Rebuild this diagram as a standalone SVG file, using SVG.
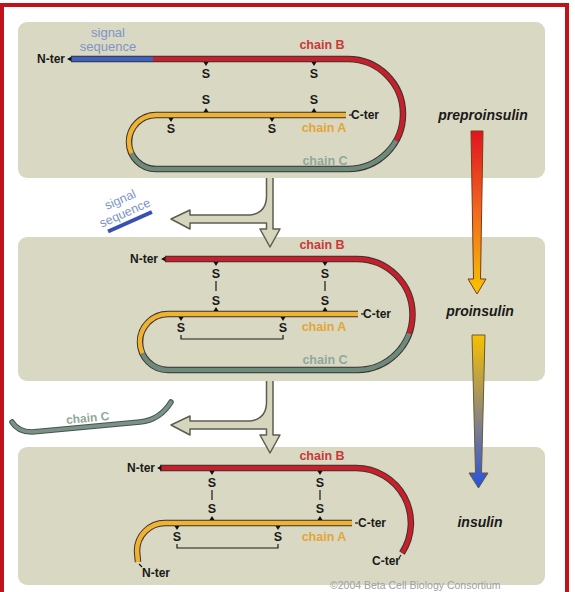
<svg xmlns="http://www.w3.org/2000/svg" width="575" height="592" viewBox="0 0 575 592">
<defs>
<style>
.panel{fill:#d9d8c3}
.ol{fill:none;stroke:#3b3330;stroke-width:6.5}
.ch{fill:none;stroke-width:4.5}
.red{stroke:#c8202b}
.yel{stroke:#f0b233}
.grn{stroke:#6d8b7b}
.blu{stroke:#3d62c4}
.s{font-family:"Liberation Sans",Arial,sans-serif;font-weight:bold;font-size:12.5px;fill:#1a1a1a;text-anchor:middle}
.term{font-family:"Liberation Sans",Arial,sans-serif;font-weight:bold;font-size:12px;fill:#1a1a1a}
.lbl{font-family:"Liberation Sans",Arial,sans-serif;font-weight:bold;font-size:12.5px;text-anchor:middle}
.lB{fill:#c8393a}.lA{fill:#e3a53a}.lC{fill:#8fa89a}
.stage{font-family:"Liberation Sans",Arial,sans-serif;font-weight:bold;font-style:italic;font-size:14px;fill:#1a1a1a;text-anchor:middle}
.sig{font-family:"Liberation Sans",Arial,sans-serif;font-size:13px;fill:#7d95c8;text-anchor:middle}
.bond{stroke:#1a1a1a;stroke-width:1.2;fill:none}
.blk{fill:#d6d5bd;stroke:#5e5e50;stroke-width:1.5;stroke-linejoin:round}
</style>
<path id="td" d="M-2.5,0 H2.5 L0,4 Z" fill="#111"/>
<path id="tu" d="M-2.5,0 H2.5 L0,-4 Z" fill="#111"/>
<path id="tl" d="M0,0 L4.5,-2.5 L4.5,2.5 Z" fill="#111"/>
<linearGradient id="g1" x1="0" y1="0" x2="0" y2="1">
<stop offset="0" stop-color="#e0141f"/>
<stop offset="0.5" stop-color="#f26a1e"/>
<stop offset="1" stop-color="#f7c600"/>
</linearGradient>
<linearGradient id="g2" x1="0" y1="0" x2="0" y2="1">
<stop offset="0" stop-color="#f7c000"/>
<stop offset="0.55" stop-color="#8a8580"/>
<stop offset="1" stop-color="#2452e0"/>
</linearGradient>
</defs>
<rect x="0" y="0" width="575" height="592" fill="#ffffff"/>
<rect id="frame" x="2" y="5" width="565" height="620" fill="none" stroke="#c0121a" stroke-width="4"/>

<g id="panels">
<rect class="panel" x="18" y="22" width="527" height="156" rx="9"/>
<rect class="panel" x="18" y="237" width="527" height="144" rx="9"/>
<rect class="panel" x="18" y="447" width="527" height="138" rx="9"/>
</g>

<g id="preproinsulin-molecule">
<text class="sig" x="108" y="37">signal</text>
<text class="sig" x="108" y="51">sequence</text>
<path class="ol" d="M71,59 H348 A55,55 0 0 1 348,169 H156 A27,27 0 0 1 156,115 H346"/>
<path class="ch blu" d="M71,59 H153"/>
<path class="ch red" d="M153,59 H348 A55,55 0 0 1 396.1,140.7"/>
<path class="ch grn" d="M396.1,140.7 A55,55 0 0 1 348,169 H156 A27,27 0 0 1 131.5,153.4"/>
<path class="ch yel" d="M131.5,153.4 A27,27 0 0 1 156,115 H346"/>
<text class="term" x="37" y="63">N-ter</text>
<use href="#tl" x="67" y="59"/>
<path class="bond" d="M349,115 H352"/>
<text class="term" x="351" y="119">C-ter</text>
<text class="lbl lB" x="322" y="49">chain B</text>
<text class="lbl lA" x="324" y="132">chain A</text>
<text class="lbl lC" x="325" y="165">chain C</text>
<use href="#td" x="206" y="62"/><text class="s" x="206" y="78">S</text>
<use href="#td" x="314" y="62"/><text class="s" x="314" y="78">S</text>
<use href="#tu" x="206" y="112"/><text class="s" x="206" y="104">S</text>
<use href="#tu" x="314" y="112"/><text class="s" x="314" y="104">S</text>
<use href="#td" x="171" y="118"/><text class="s" x="171" y="133">S</text>
<use href="#td" x="272" y="118"/><text class="s" x="272" y="133">S</text>
</g>

<g id="proinsulin-molecule">
<path class="ol" d="M165,259 H357 A55.5,55.5 0 0 1 357,370 H168 A28,28 0 0 1 168,314 H358"/>
<path class="ch red" d="M165,259 H357 A55.5,55.5 0 0 1 409.2,333.5"/>
<path class="ch grn" d="M409.2,333.5 A55.5,55.5 0 0 1 357,370 H168 A28,28 0 0 1 142.4,353.4"/>
<path class="ch yel" d="M142.4,353.4 A28,28 0 0 1 168,314 H358"/>
<text class="term" x="130" y="263">N-ter</text>
<use href="#tl" x="161" y="259"/>
<path class="bond" d="M361,314 H364"/>
<text class="term" x="363" y="318">C-ter</text>
<text class="lbl lB" x="322" y="249">chain B</text>
<text class="lbl lA" x="324" y="331">chain A</text>
<text class="lbl lC" x="325" y="364">chain C</text>
<use href="#td" x="216" y="262"/><text class="s" x="216" y="278">S</text>
<path class="bond" d="M216,281 V291"/>
<text class="s" x="216" y="305">S</text><use href="#tu" x="216" y="311"/>
<use href="#td" x="325" y="262"/><text class="s" x="325" y="278">S</text>
<path class="bond" d="M325,281 V291"/>
<text class="s" x="325" y="305">S</text><use href="#tu" x="325" y="311"/>
<use href="#td" x="181" y="317"/><text class="s" x="181" y="332">S</text>
<use href="#td" x="283" y="317"/><text class="s" x="283" y="332">S</text>
<path class="bond" d="M181,335 V339 H283 V335"/>
</g>

<g id="insulin-molecule">
<path class="ol" d="M160,468 H356 A55,55 0 0 1 402,553"/>
<path class="ol" d="M138,562 L137,551 A28,28 0 0 1 165,523 H352"/>
<path class="ch red" d="M160,468 H356 A55,55 0 0 1 402,553"/>
<path class="ch yel" d="M138,562 L137,551 A28,28 0 0 1 165,523 H352"/>
<text class="term" x="127" y="472">N-ter</text>
<use href="#tl" x="157" y="468"/>
<path class="bond" d="M355,523 H358"/>
<text class="term" x="358" y="527">C-ter</text>
<path class="bond" d="M401,555 L399,558"/>
<text class="term" x="372" y="565">C-ter</text>
<path class="bond" d="M139,564 L142,567"/>
<text class="term" x="142" y="577">N-ter</text>
<text class="lbl lB" x="322" y="460">chain B</text>
<text class="lbl lA" x="324" y="541">chain A</text>
<use href="#td" x="212" y="471"/><text class="s" x="212" y="487">S</text>
<path class="bond" d="M212,490 V500"/>
<text class="s" x="212" y="513">S</text><use href="#tu" x="212" y="520"/>
<use href="#td" x="320" y="471"/><text class="s" x="320" y="487">S</text>
<path class="bond" d="M320,490 V500"/>
<text class="s" x="320" y="513">S</text><use href="#tu" x="320" y="520"/>
<use href="#td" x="177" y="526"/><text class="s" x="177" y="541">S</text>
<use href="#td" x="278" y="526"/><text class="s" x="278" y="541">S</text>
<path class="bond" d="M177,544 V548 H278 V544"/>
</g>

<g id="released-signal-sequence">
<g transform="translate(125,213) rotate(-24)">
<text class="sig" x="1" y="-10" style="font-size:12.5px">signal</text>
<text class="sig" x="0" y="4" style="font-size:12.5px">sequence</text>
<path d="M-23,10 H25" stroke="#3a4fb2" stroke-width="4"/>
</g>
</g>

<g id="released-chain-c">
<path d="M12,422 Q18,432 32,432 L140,422 Q160,420 171,402" fill="none" stroke="#44554c" stroke-width="5.5" stroke-linecap="round"/>
<path d="M12,422 Q18,432 32,432 L140,422 Q160,420 171,402" fill="none" stroke="#7b918a" stroke-width="3.5" stroke-linecap="round"/>
<text class="lbl lC" transform="translate(88,422) rotate(-5)" x="0" y="0" style="font-size:12px">chain C</text>
</g>

<g id="stage-labels">
<text class="stage" x="483" y="120">preproinsulin</text>
<text class="stage" x="480" y="316">proinsulin</text>
<text class="stage" x="480" y="527">insulin</text>
</g>

<g id="connectors">
<path class="blk" d="M273,178 V229 H280 L270,247 L260,229 H266.5 V223 H190 V229 L171,219 L190,210 V215 H250 Q266.5,213 266.5,196 V178"/>
<path class="blk" d="M273,381 V435 H280 L270,453 L260,435 H266.5 V429 H190 V435 L171,425 L190,416 V421 H250 Q266.5,419 266.5,402 V381"/>
<path d="M471,131 L483,131 L480.5,279 L486,279 L477,294 L468,279 L473.5,279 Z" fill="url(#g1)" stroke="#7a3a1a" stroke-width="1"/>
<path d="M472,335 L485,335 L481.5,473 L488,473 L478.5,488 L469,473 L475.5,473 Z" fill="url(#g2)" stroke="#6a5a30" stroke-width="1"/>
</g>

<text x="330" y="589" style="font-family:'Liberation Sans',Arial,sans-serif;font-size:10.5px;fill:#a0a0a0">©2004 Beta Cell Biology Consortium</text>
</svg>
